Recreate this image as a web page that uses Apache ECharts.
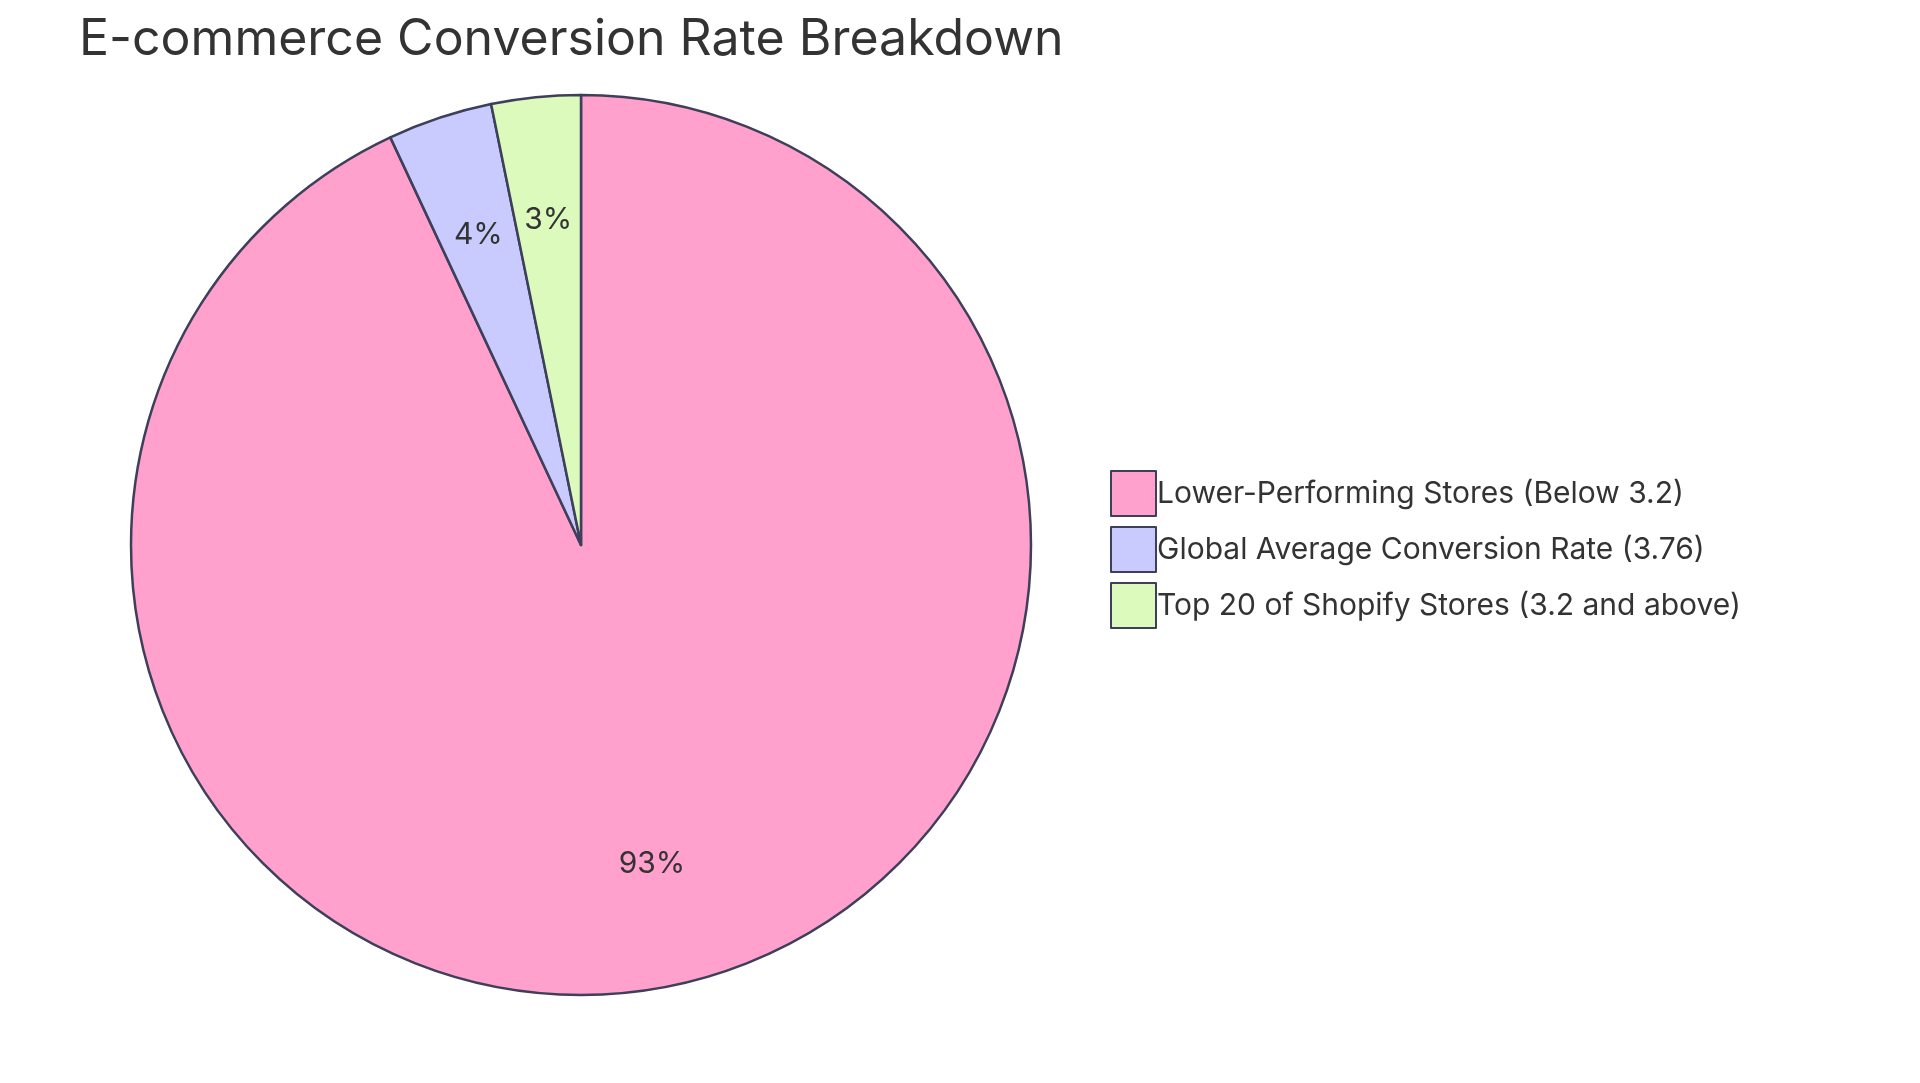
<!DOCTYPE html>
<html>
<head>
<meta charset="utf-8">
<script src="https://cdn.jsdelivr.net/npm/echarts@6/dist/echarts.min.js"></script>
<style>html,body{margin:0;padding:0;background:#fff}#main{width:1920px;height:1083px}</style>
</head>
<body>
<div id="main"></div>
<script>
// data
var categories = ['Lower-Performing Stores (Below 3.2)', 'Global Average Conversion Rate (3.76)', 'Top 20 of Shopify Stores (3.2 and above)'];
var values = [93, 3.76, 3.2];
var colors = ['#ffa1cc', '#c9cafe', '#dcfabc'];

var pieData = categories.map(function (c, i) {
    return { name: c, value: values[i], itemStyle: { color: colors[i] } };
});

var myChart = echarts.init(document.getElementById('main'));
var cx = 581, cy = 545, R = 450;

var option = {
    animation: false,
    title: {
        text: 'E-commerce Conversion Rate Breakdown',
        left: 74, top: 10,
        textStyle: { fontFamily: 'Inter', fontWeight: 'normal', fontSize: 50, color: '#333' }
    },
    legend: {
        orient: 'vertical',
        left: 1105, top: 465,
        icon: 'rect',
        itemWidth: 45, itemHeight: 45, itemGap: 9,
        textStyle: { fontFamily: 'Inter', fontSize: 30, color: '#333', padding: [0, 0, 0, -4] },
        data: categories
    },
    series: [{
        type: 'pie',
        center: [cx, cy],
        radius: [0, R],
        startAngle: 90,
        clockwise: true,
        itemStyle: { borderColor: '#3d3f5b', borderWidth: 2.5 },
        label: { show: false },
        labelLine: { show: false },
        emphasis: { disabled: true },
        data: pieData
    }, {
        // 透明层，只用来放百分比标签
        type: 'pie',
        center: [cx, cy],
        radius: [R * 0.44, R],
        startAngle: 90,
        silent: true,
        itemStyle: { color: 'rgba(0,0,0,0)', borderWidth: 0 },
        label: {
            show: true, position: 'inside',
            formatter: function (p) { return Math.round(p.percent) + '%'; },
            fontFamily: 'Inter', fontSize: 30, color: '#333'
        },
        labelLine: { show: false },
        data: categories.map(function (c, i) { return { name: c, value: values[i] }; })
    }]
};
myChart.setOption(option);
</script>
</body>
</html>
